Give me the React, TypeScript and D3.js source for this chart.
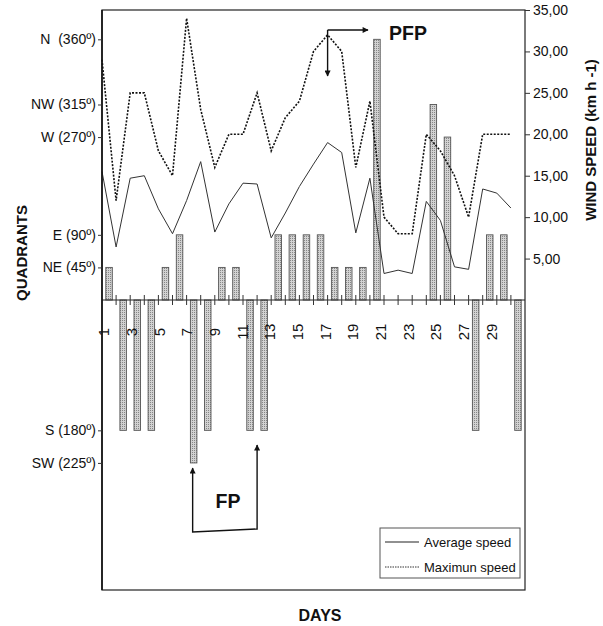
import React, { useEffect, useRef } from 'react';
import * as d3 from 'd3';

const days = [1, 2, 3, 4, 5, 6, 7, 8, 9, 10, 11, 12, 13, 14, 15, 16, 17, 18, 19, 20, 21, 22, 23, 24, 25, 26, 27, 28, 29, 30];
const dayLabels = [1, 3, 5, 7, 9, 11, 13, 15, 17, 19, 21, 23, 25, 27, 29];

const averageSpeed = [15.5, 6.4, 14.7, 15, 11, 8, 12, 16.7, 8.2, 11.6, 14.1, 14, 7.5, 10.5, 13.7, 16.4, 19, 17.8, 8.1, 14.7, 3.2, 3.6, 3.2, 11.9, 9.6, 4, 3.7, 13.4, 12.9, 11.1];
const maximumSpeed = [29, 12, 25, 25, 18, 15, 34, 23, 16, 20, 20, 25, 18, 22, 24, 30, 32, 30, 16, 24, 10, 8, 8, 20, 18, 15, 10, 20, 20, 20];

// wind direction of each day ('' = no bar)
const windQuadrant = ['NE', 'S', 'S', 'S', 'NE', 'E', 'SW', 'S', 'NE', 'NE', 'S', 'S', 'E', 'E', 'E', 'E', 'NE', 'NE', 'NE', 'N', '', '', '', 'NW', 'W', '', 'S', 'E', 'E', 'S'];

const quadrantNames = ['N', 'NW', 'W', 'E', 'NE', 'S', 'SW'];
const quadrantLabels = ['N  (360º)', 'NW (315º)', 'W (270º)', 'E (90º)', 'NE (45º)', 'S (180º)', 'SW (225º)'];
const quadrantLevels = [8, 6, 5, 2, 1, -4, -5];

const speedTicks = [5, 10, 15, 20, 25, 30, 35];

const App: React.FC = () => {
    const svgRef = useRef<SVGSVGElement | null>(null);

    const width = 603;
    const height = 626;

    const left = 102;
    const right = 525;
    const top = 10;
    const bottom = 590;

    const font = '"Liberation Sans", Arial, sans-serif';

    useEffect(() => {
        const svg = d3.select(svgRef.current);
        svg.selectAll('*').remove();

        const xBand = d3.scaleBand<number>().domain(days).range([left, right]);
        const xPoint = d3.scaleLinear().domain([1, 31]).range([left, right]);
        const xLabel = d3.scaleLinear().domain([1, 31]).range([left + 2, right - 6]);
        const yQ = d3.scaleLinear().domain([-8.9, 8.9]).range([bottom, top]);
        const ySpeed = d3.scaleLinear().domain([-35, 35]).range([bottom, top]);

        const levelOf = new Map(quadrantNames.map((q, i) => [q, quadrantLevels[i]]));
        const fmt = d3.formatLocale({ decimal: ',', thousands: '.', grouping: [3], currency: ['', ''] }).format('.2f');

        const defs = svg.append('defs');
        const pat = defs.append('pattern')
            .attr('id', 'stipple')
            .attr('width', 2)
            .attr('height', 2)
            .attr('patternUnits', 'userSpaceOnUse');
        pat.append('rect').attr('width', 2).attr('height', 2).attr('fill', '#d2d2d2');
        pat.append('rect').attr('width', 1).attr('height', 1).attr('fill', '#868686');

        defs.append('marker')
            .attr('id', 'arrow')
            .attr('viewBox', '0 0 10 10')
            .attr('refX', 9)
            .attr('refY', 5)
            .attr('markerWidth', 10)
            .attr('markerHeight', 6)
            .attr('markerUnits', 'userSpaceOnUse')
            .attr('orient', 'auto-start-reverse')
            .append('path')
            .attr('d', 'M0,0 L10,5 L0,10 z')
            .attr('fill', '#111');

        // bars (quadrants)
        const bw = 6.5;
        svg.append('g')
            .selectAll('rect')
            .data(days.filter((d, i) => windQuadrant[i] !== ''))
            .join('rect')
            .attr('x', d => (xBand(d) as number) + xBand.bandwidth() / 2 - bw / 2)
            .attr('y', d => Math.min(yQ(levelOf.get(windQuadrant[d - 1]) as number), yQ(0)))
            .attr('width', bw)
            .attr('height', d => Math.abs(yQ(levelOf.get(windQuadrant[d - 1]) as number) - yQ(0)))
            .attr('fill', 'url(#stipple)')
            .attr('stroke', '#555')
            .attr('stroke-width', 0.9);

        // x axis line and ticks
        svg.append('line')
            .attr('x1', left).attr('x2', right)
            .attr('y1', yQ(0)).attr('y2', yQ(0))
            .attr('stroke', '#222').attr('stroke-width', 1);

        svg.append('g')
            .selectAll('line')
            .data(days.slice(1))
            .join('line')
            .attr('x1', d => xPoint(d)).attr('x2', d => xPoint(d))
            .attr('y1', yQ(0) - 5).attr('y2', yQ(0) + 5)
            .attr('stroke', '#333').attr('stroke-width', 1);

        svg.append('g')
            .selectAll('text')
            .data(dayLabels)
            .join('text')
            .attr('transform', d => `translate(${xLabel(d)}, 332) rotate(-90)`)
            .attr('text-anchor', 'middle')
            .attr('dy', '0.35em')
            .attr('font-family', font)
            .attr('font-size', 15)
            .attr('fill', '#111')
            .text(d => d);

        // lines
        const line = (vals: number[]) => d3.line<number>()
            .x((v, i) => xPoint(days[i]))
            .y(v => ySpeed(v))(vals);

        svg.append('path')
            .attr('d', line(averageSpeed))
            .attr('fill', 'none')
            .attr('stroke', '#333')
            .attr('stroke-width', 1);

        svg.append('path')
            .attr('d', line(maximumSpeed))
            .attr('fill', 'none')
            .attr('stroke', '#111')
            .attr('stroke-width', 1.6)
            .attr('stroke-dasharray', '2,1.5');

        // frame
        svg.append('rect')
            .attr('x', left).attr('y', top)
            .attr('width', right - left).attr('height', bottom - top)
            .attr('fill', 'none')
            .attr('stroke', '#222')
            .attr('stroke-width', 1.2);
        svg.append('line')
            .attr('x1', left).attr('x2', left)
            .attr('y1', top).attr('y2', bottom)
            .attr('stroke', '#111').attr('stroke-width', 1.6);

        // left axis (quadrants)
        svg.append('g')
            .attr('transform', `translate(${left}, 0)`)
            .call(d3.axisLeft(yQ)
                .tickValues(quadrantLevels)
                .tickSize(4)
                .tickPadding(2)
                .tickFormat((d, i) => quadrantLabels[i]))
            .call(g => g.select('.domain').remove())
            .call(g => g.selectAll('.tick line').attr('stroke', '#333'))
            .call(g => g.selectAll('.tick text')
                .attr('font-family', font)
                .attr('font-size', 14)
                .attr('fill', '#111')
                .style('white-space', 'pre'));

        // right axis (wind speed)
        svg.append('g')
            .attr('transform', `translate(${right}, 0)`)
            .call(d3.axisRight(ySpeed)
                .tickValues(speedTicks)
                .tickSize(5)
                .tickPadding(3)
                .tickFormat(d => fmt(d as number)))
            .call(g => g.select('.domain').remove())
            .call(g => g.selectAll('.tick line').attr('stroke', '#333'))
            .call(g => g.selectAll('.tick text')
                .attr('font-family', font)
                .attr('font-size', 14)
                .attr('fill', '#111'));

        // axis titles
        svg.append('text')
            .attr('transform', 'translate(27, 253) rotate(-90)')
            .attr('text-anchor', 'middle')
            .attr('font-family', font)
            .attr('font-size', 15)
            .attr('font-weight', 'bold')
            .attr('fill', '#111')
            .text('QUADRANTS');

        svg.append('text')
            .attr('transform', 'translate(596, 140) rotate(-90)')
            .attr('text-anchor', 'middle')
            .attr('font-family', font)
            .attr('font-size', 15)
            .attr('font-weight', 'bold')
            .attr('fill', '#111')
            .text('WIND SPEED (km h -1)');

        svg.append('text')
            .attr('x', 320).attr('y', 621)
            .attr('text-anchor', 'middle')
            .attr('font-family', font)
            .attr('font-size', 16)
            .attr('font-weight', 'bold')
            .attr('fill', '#111')
            .text('DAYS');

        // PFP annotation
        const px = xPoint(17);
        svg.append('line')
            .attr('x1', px).attr('y1', 30).attr('x2', px).attr('y2', 76)
            .attr('stroke', '#111').attr('stroke-width', 1.4)
            .attr('marker-end', 'url(#arrow)');
        svg.append('line')
            .attr('x1', px).attr('y1', 30).attr('x2', 368).attr('y2', 30)
            .attr('stroke', '#111').attr('stroke-width', 1.4)
            .attr('marker-end', 'url(#arrow)');
        svg.append('text')
            .attr('x', 389).attr('y', 40)
            .attr('font-family', font)
            .attr('font-size', 19.5)
            .attr('font-weight', 'bold')
            .attr('fill', '#111')
            .text('PFP');

        // FP annotation
        const fx1 = (xBand(7) as number) + xBand.bandwidth() / 2 - 1;
        const fx2 = xPoint(12);
        svg.append('path')
            .attr('d', `M${fx1},468 L${fx1},532 L${fx2},529 L${fx2},445`)
            .attr('fill', 'none')
            .attr('stroke', '#111').attr('stroke-width', 1.4)
            .attr('marker-start', 'url(#arrow)')
            .attr('marker-end', 'url(#arrow)');
        svg.append('text')
            .attr('x', 228).attr('y', 508)
            .attr('text-anchor', 'middle')
            .attr('font-family', font)
            .attr('font-size', 19.5)
            .attr('font-weight', 'bold')
            .attr('fill', '#111')
            .text('FP');

        // legend
        const lg = svg.append('g');
        lg.append('rect')
            .attr('x', 380).attr('y', 528)
            .attr('width', 140).attr('height', 50)
            .attr('fill', '#fff')
            .attr('stroke', '#555').attr('stroke-width', 1);
        lg.append('line')
            .attr('x1', 385).attr('x2', 419).attr('y1', 542).attr('y2', 542)
            .attr('stroke', '#222').attr('stroke-width', 1.2);
        lg.append('line')
            .attr('x1', 385).attr('x2', 419).attr('y1', 567).attr('y2', 567)
            .attr('stroke', '#333').attr('stroke-width', 1)
            .attr('stroke-dasharray', '1.5,1');
        lg.append('text')
            .attr('x', 424).attr('y', 546.5)
            .attr('font-family', font).attr('font-size', 13).attr('fill', '#111')
            .text('Average speed');
        lg.append('text')
            .attr('x', 424).attr('y', 571.5)
            .attr('font-family', font).attr('font-size', 13).attr('fill', '#111')
            .text('Maximun speed');
    }, []);

    return (
        <svg
            ref={svgRef}
            viewBox={`0 0 ${width} ${height}`}
            width={width}
            height={height}
            style={{ position: 'absolute', left: 0, top: 0, background: '#fff' }}
        ></svg>
    );
};

export default App;
